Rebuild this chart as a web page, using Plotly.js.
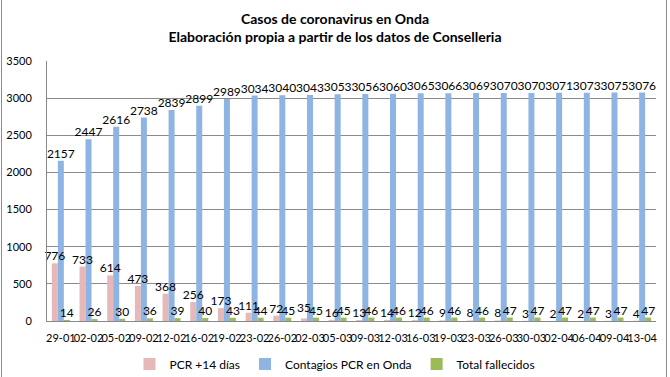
<!DOCTYPE html>
<html>
<head>
<meta charset="utf-8">
<script src="https://cdn.plot.ly/plotly-3.0.1.min.js"></script>
<style>
  html, body { margin: 0; padding: 0; background: #fff; }
  #wrap { position: relative; width: 670px; height: 377px; }
  #chart { width: 670px; height: 377px; }
  .edge { position: absolute; top: 0; width: 1px; height: 377px; background: #8c8c8c; pointer-events: none; }
</style>
</head>
<body>
<div id="wrap">
  <div id="chart"></div>
  <div class="edge" style="left:1px"></div>
  <div class="edge" style="left:666px"></div>
</div>
<script>
const categories = ["29-01","02-02","05-02","09-02","12-02","16-02","19-02","23-02","26-02","02-03","05-03","09-03","12-03","16-03","19-03","23-03","26-03","30-03","02-04","06-04","09-04","13-04"];
const pcr14 = [776,733,614,473,368,256,173,111,72,35,16,13,14,12,9,8,8,3,2,2,3,4];
const contagios = [2157,2447,2616,2738,2839,2899,2989,3034,3040,3043,3053,3056,3060,3065,3066,3069,3070,3070,3071,3073,3075,3076];
const fallecidos = [14,26,30,36,39,40,43,44,45,45,45,46,46,46,46,46,47,47,47,47,47,47];
const seriesNames = ["PCR +14 días","Contagios PCR en Onda","Total fallecidos"];
const seriesColors = ["#E6B9B8","#8EB4E3","#9BBB59"];
const seriesVals = [pcr14, contagios, fallecidos];

const labelFont = {family: "Lato, 'Liberation Sans', sans-serif", size: 12, color: "#000"};
const data = [];
// visible bars
seriesVals.forEach((vals, i) => {
  data.push({
    type: "bar", x: categories, y: vals, name: seriesNames[i],
    offsetgroup: "g" + i,
    marker: {color: seriesColors[i]},
    hoverinfo: "x+y+name"
  });
});
// label layers drawn on top of all bars
seriesVals.forEach((vals, i) => {
  data.push({
    type: "bar", x: categories, y: vals, name: seriesNames[i],
    offsetgroup: "g" + i, showlegend: false,
    marker: {color: "rgba(0,0,0,0)"},
    text: vals.map(String), textposition: "outside", cliponaxis: false,
    constraintext: "none", textfont: labelFont, hoverinfo: "skip"
  });
});

const layout = {
  width: 670, height: 377,
  margin: {l: 47, r: 14, t: 61, b: 56},
  paper_bgcolor: "#fff", plot_bgcolor: "#fff",
  font: {family: "Lato, 'Liberation Sans', sans-serif", size: 11, color: "#000"},
  title: {
    text: "<b>Casos de coronavirus en Onda<br>Elaboración propia a partir de los datos de Conselleria</b>",
    font: {family: "Lato, 'Liberation Sans', sans-serif", size: 14, color: "#000"},
    x: 0.5, xref: "container", xanchor: "center",
    y: 1 - 24/377, yref: "container", yanchor: "middle"
  },
  barmode: "group", bargap: 0.35, bargroupgap: 0,
  xaxis: {
    type: "category", tickangle: 0, showgrid: false,
    showline: true, linecolor: "#888", linewidth: 1,
    ticks: "", tickfont: {size: 11}, ticklabelstandoff: 7,
    automargin: false
  },
  yaxis: {
    range: [0, 3500], dtick: 500, tick0: 0,
    showgrid: true, gridcolor: "#8a8a8a", gridwidth: 1,
    showline: true, linecolor: "#888", linewidth: 1,
    zeroline: false, ticks: "", tickfont: {size: 11},
    ticklabelstandoff: 12, automargin: false
  },
  showlegend: true,
  legend: {
    orientation: "h", x: 0.5, xref: "container", xanchor: "center",
    y: 1 - 364/377, yref: "container", yanchor: "middle",
    font: {size: 12}, itemwidth: 30, traceorder: "normal"
  }
};
Plotly.newPlot("chart", data, layout, {displayModeBar: false, staticPlot: true});
</script>
</body>
</html>
